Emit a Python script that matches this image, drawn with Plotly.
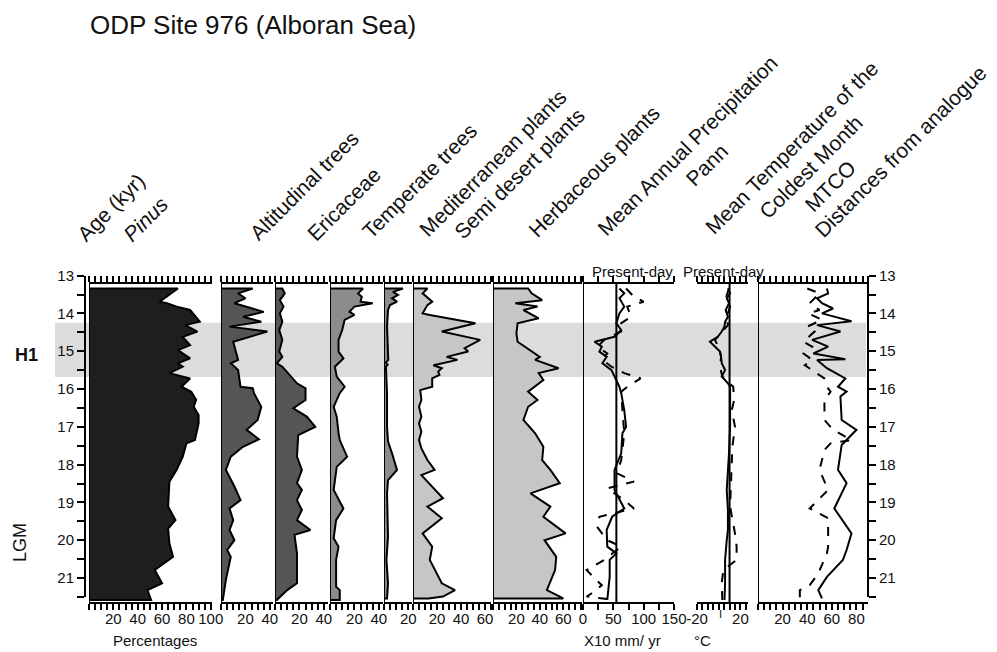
import plotly.graph_objects as go

# page body has an 8 px margin: the figure is drawn from (8, 8)
OFF = 8
W, H = 997 - OFF, 652 - OFF

# ---------------- data (ages in kyr) ----------------
pinus_age = [13.34, 13.69, 13.73, 13.82, 13.91, 14.22, 14.31, 14.48, 14.62, 14.84, 14.97, 15.19, 15.32, 15.41,
             15.58, 15.72, 15.94, 16.07, 16.29, 16.47, 16.69, 16.91, 17.17, 17.35, 17.44, 17.79, 18.14, 18.45,
             19.11, 19.47, 19.69, 20.08, 20.44, 20.79, 21.14, 21.32, 21.58]
pinus_pct = [73, 58, 64, 72, 83, 91, 79, 89, 77, 83, 73, 83, 73, 77,
             66, 83, 76, 84, 88, 86, 90, 90, 88, 87, 80, 77, 72, 66,
             65, 71, 65, 66, 69, 54, 60, 48, 51]

alt_age = [13.34, 13.47, 13.60, 13.73, 13.82, 13.96, 14.09, 14.22, 14.35, 14.48, 14.75, 15.01, 15.23, 15.32,
           15.50, 15.94, 15.98, 16.11, 16.47, 16.82, 17.08, 17.33, 17.53, 17.79, 18.14, 18.58, 18.94, 19.16,
           19.47, 19.73, 20.00, 20.26, 20.44, 21.05, 21.58]
alt_pct = [26, 14, 20, 11, 20, 35, 18, 33, 7, 38, 10, 12, 14, 8,
           14, 16, 26, 27, 33, 30, 21, 31, 18, 8, 4, 11, 16, 7,
           10, 7, 11, 5, 8, 4, 1.5]

eric_age = [13.34, 13.47, 13.65, 13.82, 14.00, 14.22, 14.44, 14.70, 15.01, 15.15, 15.32, 15.41, 15.63, 15.85,
            15.98, 16.29, 16.51, 16.73, 17.00, 17.22, 17.79, 18.14, 18.49, 18.67, 18.94, 19.20, 19.47, 19.73,
            19.86, 20.35, 21.14, 21.32, 21.58]
eric_pct = [6, 8, 4, 7, 4, 6, 3.5, 6, 3.5, 6, 1.5, 6, 12, 18,
            25, 25, 15, 26, 33, 19, 18, 22, 18, 22, 18, 22, 18, 29,
            16, 18, 18, 10, 1.5]

temp_age = [13.34, 13.47, 13.56, 13.69, 13.73, 13.82, 13.96, 14.04, 14.17, 14.44, 14.70, 15.01, 15.19, 15.41,
            15.67, 15.94, 16.11, 16.47, 16.73, 17.17, 17.35, 17.79, 18.06, 18.67, 19.16, 19.47, 19.95, 20.17,
            20.52, 21.23, 21.32, 21.58]
temp_pct = [27, 23, 26, 25, 35, 20, 16, 20, 12, 10, 7, 7, 11, 4,
            5.5, 12, 8, 3, 5.5, 7, 8, 14, 5.5, 3, 11, 5, 3, 7,
            5, 5, 8, 8]

med_age = [13.34, 13.43, 13.51, 13.60, 13.69, 13.78, 13.91, 14.35, 15.23, 15.30, 15.36, 15.41, 16.11, 17.00,
           17.39, 17.70, 18.14, 18.41, 18.76, 19.91, 20.52, 21.14, 21.54]
med_pct = [15.6, 7.4, 11.5, 6.6, 10.7, 4.9, 3.3, 2.5, 3.5, 1.5, 3, 1.6, 2.5, 2.5,
           3.3, 6.6, 10.7, 3.3, 2.5, 3.3, 2, 3.3, 2.5]

semi_age = [13.34, 13.47, 13.69, 13.78, 14.00, 14.04, 14.26, 14.48, 14.70, 14.92, 15.01, 15.15, 15.23, 15.37,
            15.45, 15.54, 15.63, 15.72, 15.94, 16.03, 16.29, 16.47, 16.73, 16.91, 17.13, 17.35, 17.57, 17.88,
            18.14, 18.28, 18.58, 18.89, 19.11, 19.42, 19.82, 20.17, 20.52, 21.14, 21.32, 21.49, 21.54]
semi_pct = [12, 8, 16, 12, 8, 14, 52, 24, 56, 43, 46, 28, 37, 17,
            24, 21, 22, 16, 16, 6, 7, 5, 7, 5, 7, 5, 7, 12,
            18, 7, 16, 25, 12, 24, 8, 16, 14, 24, 35, 25, 13]

herb_age = [13.34, 13.47, 13.65, 13.73, 13.82, 13.91, 14.13, 14.26, 14.53, 14.75, 14.92, 15.15, 15.23, 15.45,
            15.58, 15.76, 16.07, 16.29, 16.47, 16.82, 17.17, 17.53, 17.88, 18.14, 18.49, 18.76, 19.11, 19.38,
            19.82, 20.00, 20.44, 20.79, 21.32, 21.54]
herb_pct = [30, 33, 42, 19, 38, 26, 39, 21, 20, 21, 29, 40, 36, 56,
            39, 43, 30, 38, 30, 26, 36, 43, 42, 49, 57, 32, 49, 43,
            62, 44, 54, 53, 46, 60]

pann_age = [13.34, 13.47, 13.60, 13.82, 14.00, 14.26, 14.44, 14.62, 14.75, 14.88, 15.01, 15.15, 15.32, 15.50,
            15.67, 15.94, 16.11, 16.56, 17.00, 17.17, 17.70, 18.14, 18.67, 19.16, 19.38, 19.73, 20.17, 20.35,
            20.52, 20.97, 21.58]
pann_val = [60, 68, 60, 68, 60, 55, 63, 52, 19, 31, 27, 39, 32, 47,
            52, 60, 63, 68, 71, 65, 63, 52, 52, 68, 48, 39, 40, 55,
            44, 44, 40]

pann2_age = [13.34, 13.56, 13.69, 13.82, 14.09, 14.26, 14.44, 14.70, 14.88, 15.06, 15.23, 15.41, 15.58, 15.72,
             15.94, 16.07, 16.56, 17.17, 17.88, 18.23, 18.45, 18.63, 18.94, 19.16, 19.38, 19.64, 20.00, 20.17,
             20.52, 20.79, 21.01, 21.19, 21.40, 21.49, 21.58]
pann2_val = [71, 84, 100, 73, 79, 63, 68, 35, 24, 40, 32, 47, 68, 95,
             73, 63, 65, 68, 63, 56, 84, 40, 68, 84, 27, 23, 40, 63,
             35, 6, 19, 31, 15, 6, 52]

mtco_age = [13.34, 13.47, 13.60, 13.73, 13.91, 14.09, 14.22, 14.35, 14.48, 14.62, 14.75, 14.88, 15.01, 15.15,
            15.32, 15.50, 15.67, 15.85, 15.94, 16.29, 17.00, 17.70, 18.14, 18.41, 18.67, 19.20, 19.73, 20.00,
            20.52, 21.14, 21.58]
mtco_val = [8.5, 10.5, 7.4, 9.5, 6.4, 8.5, 5.9, 5.3, 2.8, -0.9, -8.1, -3.5, 1.2, 2.2,
            2.8, 5.9, 2.8, 8.5, 10.5, 10.5, 10.5, 9.5, 8.5, 7.4, 7.4, 8.5, 8.5, 7.4,
            5.9, 5.9, 5.3]

mtco2_age = [13.34, 13.60, 13.82, 14.09, 14.31, 14.48, 14.70, 14.92, 15.15, 15.41, 15.67, 15.94, 16.29, 16.56,
             17.00, 17.53, 18.14, 18.67, 19.11, 19.82, 20.17, 20.52, 20.79, 21.14, 21.58]
mtco2_val = [9.5, 6.4, 10.5, 7.4, 8.5, 3.3, -3.4, 0.2, 2.2, 1.2, 3.3, 13.4, 14.2, 12.1,
             15, 12.6, 12, 11.6, 10.5, 15, 16.5, 16.5, 4.3, 2.8, 3.3]

dist_age = [13.34, 13.47, 13.60, 13.73, 13.87, 14.00, 14.21, 14.31, 14.48, 14.70, 14.88, 15.06, 15.21, 15.23,
            15.45, 15.72, 15.94, 16.07, 16.20, 16.82, 17.08, 17.35, 17.48, 18.14, 18.49, 19.16, 19.82, 20.26,
            20.52, 20.97, 21.32, 21.54]
dist_val = [56, 57, 48, 52, 61, 52, 76, 48, 67, 44, 57, 45, 71, 48,
            56, 71, 65, 72, 67, 68, 80, 72, 68, 65, 72, 62, 76, 72,
            69, 56, 49, 52]

dist2_age = [13.34, 13.47, 13.73, 13.91, 14.00, 14.17, 14.35, 14.48, 14.75, 14.88, 15.06, 15.23, 15.37, 15.58,
             15.72, 15.94, 16.07, 16.29, 16.82, 17.08, 17.35, 17.44, 17.61, 18.14, 18.67, 19.16, 19.42, 20.17,
             20.35, 20.88, 21.19, 21.32, 21.58]
dist2_val = [40, 50, 42, 50, 41, 52, 40, 46, 37, 44, 37, 44, 38, 48,
             54, 56, 59, 54, 54, 61, 76, 59, 54, 50, 57, 42, 57, 57,
             56, 49, 42, 34, 34]

present_pann = 55
present_mtco = 10
h1_start, h1_end = 14.25, 15.68

age_ticks = [13, 14, 15, 16, 17, 18, 19, 20, 21]

# ---------------- layout helpers (window pixels -> paper) ----------------
def PX(x):
    return (x - OFF) / W

def PY(y):
    return 1 - (y - OFF) / H

AGE0_PX, PX_PER_KYR = 275.6, 37.8
def age_at(ypx):
    return 13 + (ypx - AGE0_PX) / PX_PER_KYR

TOP_PX, BOT_PX = 283, 602
AGE_TOP = age_at(TOP_PX)
AGE_BOT = age_at(BOT_PX)

panels = [
    dict(x0=89, x1=212, rng=[0, 101], dt=5, tv=[20, 40, 60, 80, 100]),   # Pinus
    dict(x0=221, x1=273, rng=[0, 42.6], dt=5, tv=[20, 40]),              # Altitudinal
    dict(x0=275, x1=328, rng=[0, 43.4], dt=5, tv=[20, 40]),              # Ericaceae
    dict(x0=330, x1=383, rng=[0, 43.4], dt=5, tv=[20, 40]),              # Temperate
    dict(x0=384, x1=412, rng=[0, 23], dt=5, tv=[20]),                    # Mediterranean
    dict(x0=413, x1=491, rng=[0, 65], dt=5, tv=[20, 40, 60]),            # Semi desert
    dict(x0=493, x1=582, rng=[0, 76], dt=5, tv=[20, 40, 60]),            # Herbaceous
    dict(x0=583, x1=674, rng=[0, 150], dt=25, tv=[0, 50, 100, 150]),     # Pann
    dict(x0=697, x1=748, rng=[-20, 27], dt=5, tv=[-20, 20]),             # MTCO
    dict(x0=758, x1=868, rng=[0, 89.4], dt=5, tv=[20, 40, 60, 80]),      # Distances
]
N = len(panels)

FONT = "Arial, Liberation Sans, sans-serif"
fig = go.Figure()

areas = [
    (1, pinus_age, pinus_pct, "#1e1e1e"),
    (2, alt_age, alt_pct, "#555555"),
    (3, eric_age, eric_pct, "#555555"),
    (4, temp_age, temp_pct, "#8c8c8c"),
    (5, med_age, med_pct, "#8c8c8c"),
    (6, semi_age, semi_pct, "#c6c6c6"),
    (7, herb_age, herb_pct, "#c6c6c6"),
]
for i, ages, vals, col in areas:
    xs = [0] + list(vals) + [0]
    ys = [ages[0]] + list(ages) + [ages[-1]]
    fig.add_trace(go.Scatter(x=xs, y=ys, mode="lines", fill="toself", fillcolor=col,
                             line=dict(color="black", width=2), xaxis=f"x{i}", yaxis="y",
                             showlegend=False, hoverinfo="skip"))

lines = [
    (8, pann_age, pann_val, "solid"), (8, pann2_age, pann2_val, "dash"),
    (9, mtco_age, mtco_val, "solid"), (9, mtco2_age, mtco2_val, "dash"),
    (10, dist_age, dist_val, "solid"), (10, dist2_age, dist2_val, "dash"),
]
for i, ages, vals, dash in lines:
    fig.add_trace(go.Scatter(x=vals, y=ages, mode="lines",
                             line=dict(color="black", width=2, dash=dash),
                             xaxis=f"x{i}", yaxis="y", showlegend=False, hoverinfo="skip"))

for i in range(1, N + 1):
    fig.add_trace(go.Scatter(x=[None], y=[None], xaxis=f"x{i + N}", yaxis="y",
                             showlegend=False, hoverinfo="skip"))
fig.add_trace(go.Scatter(x=[None], y=[None], xaxis="x", yaxis="y2", showlegend=False, hoverinfo="skip"))
fig.add_trace(go.Scatter(x=[None], y=[None], xaxis="x", yaxis="y3", showlegend=False, hoverinfo="skip"))

lay = dict(
    template="none",
    width=W, height=H, autosize=False,
    margin=dict(l=0, r=0, t=0, b=0, pad=0),
    paper_bgcolor="white", plot_bgcolor="rgba(0,0,0,0)",
    font=dict(family=FONT, color="#111111", size=15),
    showlegend=False,
)

lay["yaxis"] = dict(domain=[PY(BOT_PX), PY(AGE0_PX)], range=[AGE_BOT, 13.0], automargin=False,
                    showline=False, showticklabels=False, ticks="", showgrid=False, zeroline=False)
age_axis_common = dict(domain=[PY(AGE0_PX + 8.5 * PX_PER_KYR), PY(AGE0_PX)], range=[21.5, 13],
                       anchor="free", showline=True, linewidth=2, linecolor="black", automargin=False,
                       tickmode="array", tickvals=age_ticks, ticks="outside", ticklen=7,
                       tickwidth=1.5, tickcolor="black", showgrid=False, zeroline=False,
                       tickfont=dict(size=15, family=FONT, color="#111111"),
                       minor=dict(tickmode="linear", tick0=13.5, dtick=1, ticks="outside",
                                  ticklen=7, tickwidth=1.5, tickcolor="black", showgrid=False))
lay["yaxis2"] = dict(age_axis_common, position=PX(85), side="left")
lay["yaxis3"] = dict(age_axis_common, position=PX(868), side="right")

for k, p in enumerate(panels, start=1):
    ticktext = [str(v) for v in p["tv"]]
    common = dict(domain=[PX(p["x0"]), PX(p["x1"])], range=p["rng"], automargin=False,
                  showline=True, linewidth=2, linecolor="black",
                  tickmode="array", tickvals=p["tv"], ticktext=ticktext, ticks="outside", ticklen=6,
                  tickwidth=1.5, tickcolor="black", showgrid=False, zeroline=False,
                  tickfont=dict(size=15, family=FONT, color="#111111"),
                  minor=dict(tickmode="linear", tick0=0, dtick=p["dt"], ticks="outside",
                             ticklen=6, tickwidth=1.5, tickcolor="black", showgrid=False))
    lay[f"xaxis{k}"] = dict(common, anchor="y", side="bottom", ticklabelstandoff=-4)
    lay[f"xaxis{k + N}"] = dict(common, overlaying=f"x{k}", anchor="free", position=PY(TOP_PX),
                                side="top", showticklabels=False)

shapes = [dict(type="rect", xref="paper", yref="y", x0=PX(55), x1=PX(866), y0=h1_start, y1=h1_end,
               fillcolor="#dcdcdc", line=dict(width=0), layer="below")]
for k in [1, 2, 3, 4, 5, 6, 7, 8, 10]:
    shapes.append(dict(type="line", xref=f"x{k}", yref="y", x0=0, x1=0, y0=13.0, y1=AGE_BOT,
                       line=dict(color="black", width=2)))
shapes.append(dict(type="line", xref="x8", yref="y", x0=present_pann, x1=present_pann,
                   y0=AGE_TOP, y1=AGE_BOT, line=dict(color="black", width=2)))
shapes.append(dict(type="line", xref="x9", yref="y", x0=present_mtco, x1=present_mtco,
                   y0=AGE_TOP, y1=AGE_BOT, line=dict(color="black", width=2)))
lay["shapes"] = shapes

def ann(text, x, y, size, angle=0, xa="center", ya="middle", **kw):
    return dict(text=text, x=PX(x), y=PY(y), xref="paper", yref="paper", showarrow=False,
                xanchor=xa, yanchor=ya, textangle=angle, borderpad=0,
                font=dict(size=size, family=FONT, color="#111111"), **kw)

annotations = [
    ann("ODP Site 976 (Alboran Sea)", 253, 25, 26),
    ann("Age (kyr)", 111, 208, 21, -45),
    ann("<i>Pinus</i>", 145, 219, 21, -45),
    ann("Altitudinal trees", 304, 185, 21, -45),
    ann("Ericaceae", 343, 204, 21, -45),
    ann("Temperate trees", 420, 181, 21, -45),
    ann("Mediterranean plants", 492, 163, 21, -45),
    ann("Semi desert plants", 519, 173, 21, -45),
    ann("Herbaceous plants", 594, 172, 21, -45),
    ann("Mean Annual Precipitation<br>Pann", 697, 155, 21, -45, align="center"),
    ann("Mean Temperature of the<br>Coldest Month<br>MTCO", 811, 167, 21, -45, align="center"),
    ann("Distances from analogue", 900, 151, 21, -45),
    ann("<b>H1</b>", 26, 355, 18),
    ann("LGM", 20, 543, 18, -90),
    ann("Percentages", 155, 640, 15),
    ann("X10 mm/ yr", 622, 640, 15),
    ann("°C", 702, 640, 15),
    ann("Present-day", 632, 271, 15),
    ann("Present-day", 723, 271, 15),
    ann("I", 720, 614, 11),
]
lay["annotations"] = annotations

fig.update_layout(**lay)
fig.write_html("out.html")
